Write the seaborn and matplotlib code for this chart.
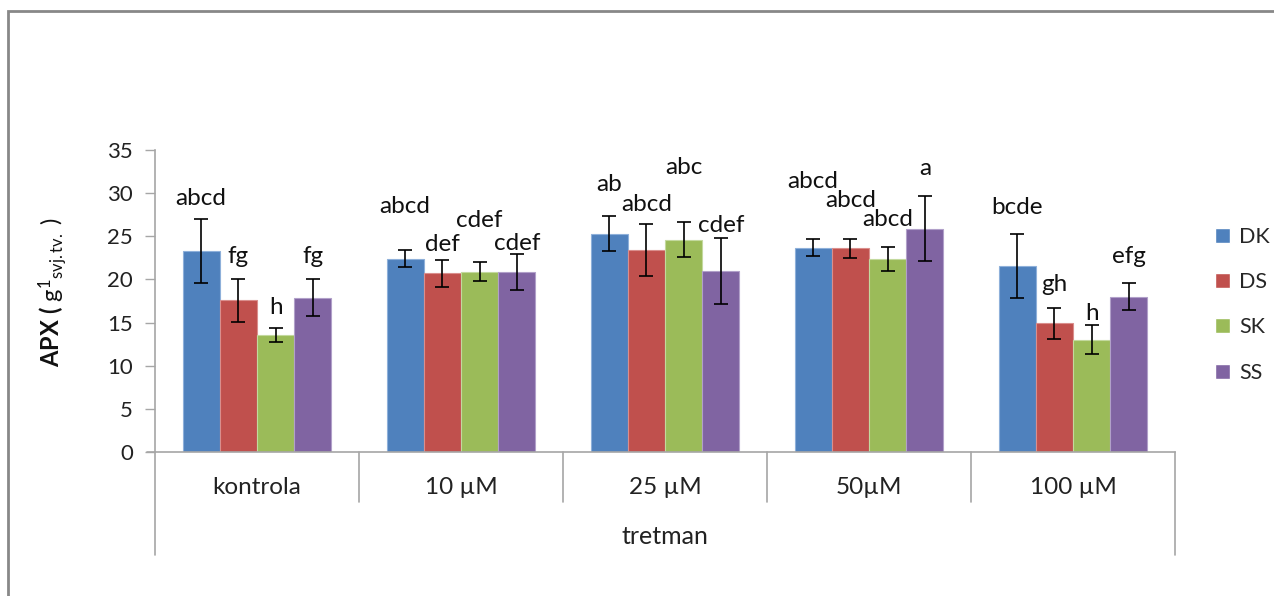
import matplotlib
matplotlib.use("Agg")
import matplotlib.pyplot as plt
import matplotlib.transforms as mtransforms
from matplotlib.patches import Rectangle
import seaborn as sns
import pandas as pd

categories = ["kontrola", "10 µM", "25 µM", "50µM", "100 µM"]
series = ["DK", "DS", "SK", "SS"]
values = {
    "DK": [23.3, 22.4, 25.3, 23.7, 21.6],
    "DS": [17.6, 20.7, 23.4, 23.6, 14.9],
    "SK": [13.6, 20.9, 24.6, 22.4, 13.0],
    "SS": [17.9, 20.9, 21.0, 25.9, 18.0],
}
errors = {
    "DK": [3.7, 1.0, 2.0, 1.0, 3.7],
    "DS": [2.5, 1.6, 3.0, 1.1, 1.8],
    "SK": [0.8, 1.1, 2.0, 1.4, 1.7],
    "SS": [2.1, 2.1, 3.8, 3.8, 1.6],
}
letters = {
    "DK": ["abcd", "abcd", "ab", "abcd", "bcde"],
    "DS": ["fg", "def", "abcd", "abcd", "gh"],
    "SK": ["h", "cdef", "abc", "abcd", "h"],
    "SS": ["fg", "cdef", "cdef", "a", "efg"],
}
letter_y = {
    "DK": [29.4, 28.4, 31.0, 31.3, 28.3],
    "DS": [22.6, 24.0, 28.7, 29.1, 19.4],
    "SK": [16.8, 26.8, 33.0, 27.0, 16.1],
    "SS": [22.7, 24.2, 26.3, 32.8, 22.7],
}
colors = ["#4F81BD", "#C0504D", "#9BBB59", "#8064A2"]
edge_colors = ["#8EB0DA", "#DA8E8C", "#C3D99E", "#B1A0C9"]

sns.set_theme(style="white")
plt.rcParams["font.family"] = ["Lato", "DejaVu Sans"]
plt.rcParams["mathtext.fontset"] = "custom"
plt.rcParams["mathtext.rm"] = "Lato"
plt.rcParams["mathtext.bf"] = "Lato:bold"
plt.rcParams["mathtext.it"] = "Lato:italic"

df = pd.DataFrame(
    [(c, s, values[s][i]) for s in series for i, c in enumerate(categories)],
    columns=["tretman", "series", "value"],
)

W, H = 1274, 596
fig = plt.figure(figsize=(W / 100, H / 100), dpi=100)
ax = fig.add_axes([155 / W, 1 - 452 / H, (1175 - 155) / W, (452 - 150) / H])

sns.barplot(data=df, x="tretman", y="value", hue="series", order=categories,
            hue_order=series, palette=colors, errorbar=None, width=0.73,
            saturation=1, ax=ax, legend=True)

for si, s in enumerate(series):
    cont = ax.containers[si]
    for ci, bar in enumerate(cont):
        bar.set_edgecolor(edge_colors[si])
        bar.set_linewidth(0.8)
        xc = bar.get_x() + bar.get_width() / 2
        ax.errorbar(xc, values[s][ci], yerr=errors[s][ci], fmt="none",
                    ecolor="black", elinewidth=1.2, capsize=5, capthick=1.2, zorder=5)
        ax.text(xc, letter_y[s][ci], letters[s][ci], ha="center", va="center",
                fontsize=17.5, color="#111111", zorder=6)

ax.set_xlim(-0.5, 4.5)
ax.set_ylim(0, 35)
ax.set_yticks(range(0, 36, 5))
ax.set_yticklabels([str(v) for v in range(0, 36, 5)], fontsize=16, color="#222222")
ax.tick_params(axis="y", which="both", left=True, length=7, width=1, color="#A6A6A6", pad=9)
ax.tick_params(axis="x", bottom=False, labelbottom=False)
ax.set_xlabel("")
for side in ["top", "right"]:
    ax.spines[side].set_visible(False)
ax.spines["left"].set_color("#A6A6A6")
ax.spines["bottom"].set_color("#A6A6A6")
ax.spines["left"].set_linewidth(1.2)
ax.spines["bottom"].set_linewidth(1.2)

# category box below axis
trans = mtransforms.blended_transform_factory(ax.transData, ax.transAxes)
for xb in [0.5, 1.5, 2.5, 3.5]:
    ax.plot([xb, xb], [0, -50 / 302], transform=trans, color="#A6A6A6", lw=1.2, clip_on=False)
for xb in [-0.5, 4.5]:
    ax.plot([xb, xb], [0, -103 / 302], transform=trans, color="#A6A6A6", lw=1.2, clip_on=False)
ax.plot([-0.5 - 8 / 204, -0.5], [0, 0], transform=trans, color="#A6A6A6", lw=1.2, clip_on=False)
for ci, c in enumerate(categories):
    ax.text(ci, -35 / 302, c, transform=trans, ha="center", va="center",
            fontsize=17.5, color="#222222")
ax.text(2, -85 / 302, "tretman", transform=trans, ha="center", va="center",
        fontsize=18, color="#222222")

ax.set_ylabel(r"$\mathbf{APX\ (}\ \mathrm{g}^{1}{}_{\mathrm{svj.tv.}}\ )$",
              fontsize=17, color="#111111")
ax.yaxis.set_label_coords((70 - 155) / 1020, (452 - 292) / 302)

handles, labels_ = ax.get_legend_handles_labels()
ax.legend(handles, labels_, loc="upper left", bbox_to_anchor=(1206 / W, 1 - 218 / H),
          bbox_transform=fig.transFigure, frameon=False, fontsize=15.5,
          handlelength=0.7, handleheight=0.7, handletextpad=0.45,
          labelspacing=1.18, borderaxespad=0)

fig.patches.append(Rectangle((8 / W, -0.05), 1.2, 1 - 11 / H + 0.05,
                             transform=fig.transFigure, fill=False,
                             edgecolor="#888888", lw=2))

fig.savefig("out.png", dpi=100)
